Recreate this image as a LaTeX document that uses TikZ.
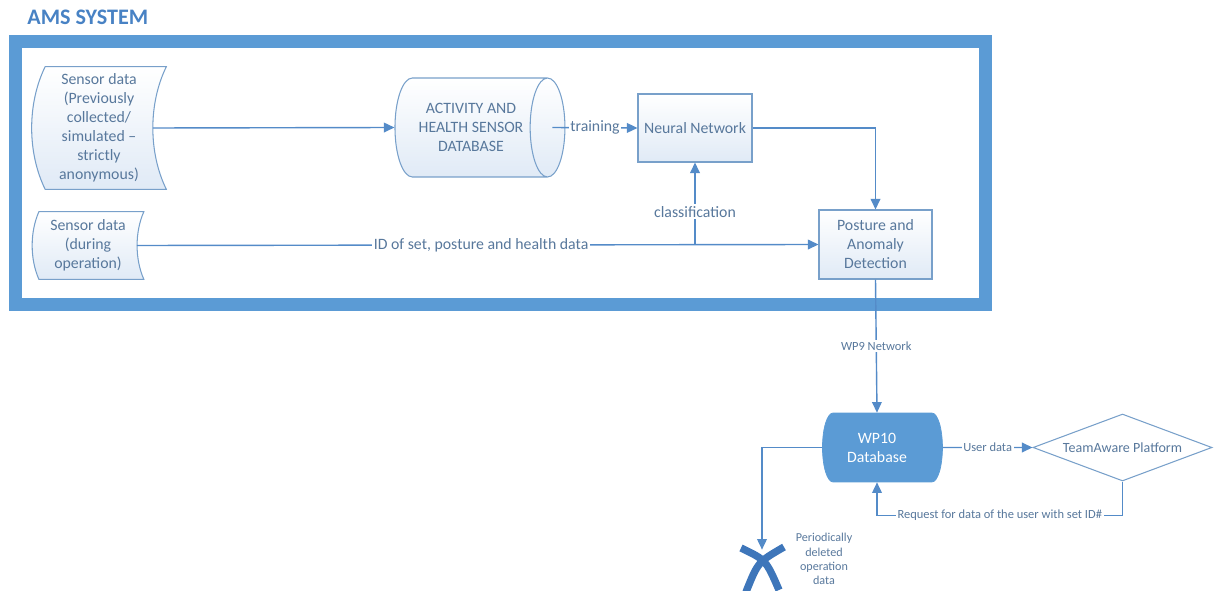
\documentclass[tikz,border=0pt]{standalone}
\usepackage{fontspec}
\setmainfont{Carlito}
\usetikzlibrary{arrows.meta,shapes.geometric,calc,backgrounds}

\definecolor{amsblue}{RGB}{91,155,213}
\definecolor{lineblue}{RGB}{84,139,200}
\definecolor{edgeblue}{RGB}{120,160,202}
\definecolor{txtblue}{RGB}{88,120,156}
\definecolor{fillblue}{RGB}{224,234,246}
\definecolor{titleblue}{RGB}{72,130,196}
\definecolor{xblue}{RGB}{62,118,186}

% stored-data outline drawn behind node #1, #2 = bulge of the sides
\newcommand{\datashape}[2]{%
  \begin{pgfonlayer}{background}
  \draw[draw=edgeblue, line width=0.6pt, top color=white, bottom color=fillblue]
    ($(#1.north west)+(0.75*#2,0)$) -- (#1.north east)
    .. controls ($(#1.north east)!0.3!(#1.south east)+(-#2,0)$) and ($(#1.north east)!0.7!(#1.south east)+(-#2,0)$) .. (#1.south east)
    -- ($(#1.south west)+(0.75*#2,0)$)
    .. controls ($(#1.south west)!0.3!(#1.north west)+(-0.25*#2,0)$) and ($(#1.south west)!0.7!(#1.north west)+(-0.25*#2,0)$) .. cycle;
  \end{pgfonlayer}}

\begin{document}
\begin{tikzpicture}[x=0.02cm, y=-0.02cm,
  txt/.style={font=\fontsize{9}{10.8}\selectfont, text=txtblue, align=center},
  small/.style={font=\fontsize{7.1}{8.8}\selectfont, text=txtblue, align=center},
  datatext/.style={txt, inner sep=0pt},
  box/.style={txt, draw=edgeblue, line width=0.6pt, top color=white, bottom color=fillblue, inner sep=0pt},
  flow/.style={draw=lineblue, line width=0.8pt, -{Triangle[length=6pt,width=5.5pt]}},
  lab/.style={fill=white, inner sep=1pt}]
\useasboundingbox (0,0) rectangle (1218,591);

% title and system frame
\node[anchor=west, inner sep=0pt, font=\fontsize{12.6}{14}\selectfont\bfseries, text=titleblue] (title) at (27,17) {AMS SYSTEM};
\draw[amsblue, line width=7.4pt] (15.5,42) rectangle (985.5,305);

% sensor inputs
\node[datatext, minimum width=2.68cm, minimum height=2.44cm] (hist) at (99,128) {Sensor data\\(Previously\\collected/\\simulated --\\strictly\\anonymous)};
\datashape{hist}{18}
\node[datatext, minimum width=2.22cm, minimum height=1.34cm] (live) at (88,245.5) {Sensor data\\(during\\operation)};
\datashape{live}{9}

% processing
\node[box, cylinder, shape aspect=0.72, minimum height=3.4cm, minimum width=1.98cm] (actdb) at (471,127.5) {ACTIVITY AND\\HEALTH SENSOR\\DATABASE};
\node[box, minimum width=2.28cm, minimum height=1.36cm] (nn) at (695,128) {Neural Network};
\node[box, minimum width=2.26cm, minimum height=1.38cm] (detect) at (875.5,244.5) {Posture and\\Anomaly\\Detection};

% outside the system
\node[txt, cylinder, shape aspect=0.72, draw=amsblue, fill=amsblue, text=white, inner sep=0pt, minimum height=2.4cm, minimum width=1.38cm] (wp10) at (877,447.5) {WP10\\Database};
\node[diamond, shape aspect=2.67, draw=edgeblue, line width=0.6pt, fill=white, inner sep=0pt, minimum width=3.58cm, minimum height=1.34cm, font=\fontsize{8}{9.6}\selectfont, text=txtblue] (tap) at (1122.5,447.5) {TeamAware Platform};
\node[minimum width=0.8cm, minimum height=0.8cm] (xmark) at (762,570) {};
\draw[xblue, line width=4.2pt] (741,548) .. controls (766,560) .. (779,590);
\draw[xblue, line width=4.2pt] (784,547) .. controls (758,562) .. (746,592);
\node[small, anchor=north, inner sep=0pt, font=\fontsize{6.9}{8.2}\selectfont] (deltext) at (824,533) {Periodically\\deleted\\operation\\data};

% connectors
\draw[flow] ($(hist.east)+(-13.5,0)$) -- (actdb.west);
\draw[flow] ($(actdb.east)+(-13,0)$) -- node[lab, txt]{training} (nn.west);
\draw[flow] (nn.east) -| (detect.north);
\draw[flow] ($(live.east)+(-7,0)$) -- node[lab, txt, pos=0.505]{ID of set, posture and health data} (detect.west);
\coordinate (split) at (nn.south |- detect.west);
\draw[flow] (split) -- node[lab, txt, pos=0.4]{classification} (nn.south);
\draw[flow] (detect.south) -- node[lab, small]{WP9 Network} (wp10.north);
\draw[flow] (wp10.east) -- node[lab, small]{User data} (tap.west);
\draw[flow] (tap.south) -- ++(0,34) -| node[lab, small, pos=0.25]{Request for data of the user with set ID\#} (wp10.south);
\draw[flow] (wp10.west) -| (xmark.north);
\end{tikzpicture}
\end{document}
